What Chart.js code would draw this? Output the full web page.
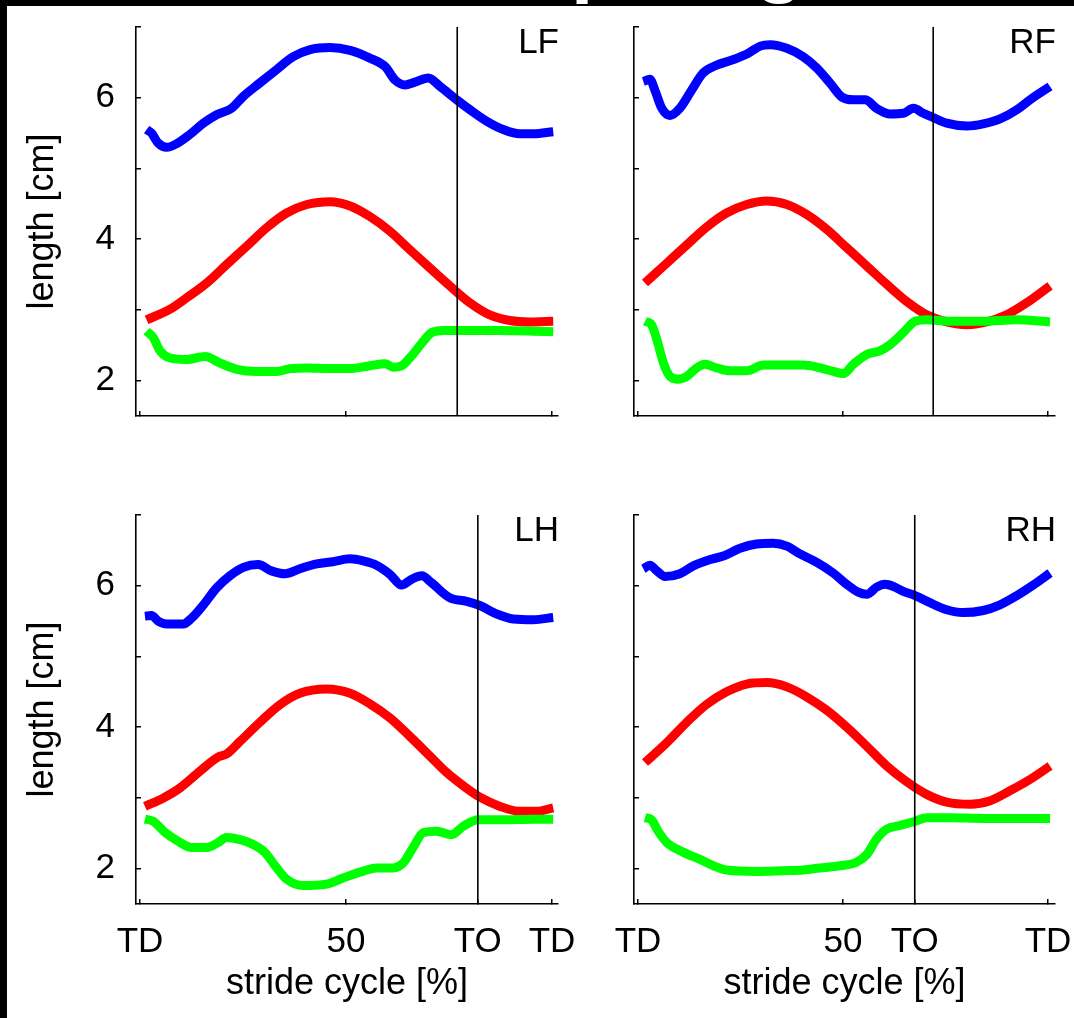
<!DOCTYPE html>
<html><head><meta charset="utf-8">
<script src="https://cdn.jsdelivr.net/npm/chart.js@4/dist/chart.umd.min.js"></script>
<style>
html,body{margin:0;padding:0;background:#fff;}
body{width:1074px;height:1018px;position:relative;overflow:hidden;font-family:"Liberation Sans",Arial,sans-serif;}
#topband{position:absolute;left:0;top:0;width:1074px;height:6px;background:#000;overflow:hidden;z-index:2;}
#topband span{position:absolute;top:-80px;color:#fff;font:bold 80px "Liberation Sans",Arial,sans-serif;line-height:80px;white-space:nowrap;}
#leftband{position:absolute;left:0;top:0;width:7px;height:1018px;background:#000;z-index:2;}
canvas{position:absolute;}
</style></head>
<body>
<div id="topband"><span style="left:571px">p</span><span style="left:755px">g</span></div>
<div id="leftband"></div>
<canvas id="cLF" width="580" height="460" style="left:0;top:0"></canvas>
<canvas id="cRF" width="494" height="460" style="left:580px;top:0"></canvas>
<canvas id="cLH" width="580" height="530" style="left:0;top:488px"></canvas>
<canvas id="cRH" width="494" height="530" style="left:580px;top:488px"></canvas>
<script>
// ---------- data (x: stride cycle %, y: length cm) ----------
const LF_blue_x = [1.6,2.8,4.4,6.5,8.9,12.1,15.4,18.6,22.2,25.1,29.1,33.2,37.2,41.3,46.1,51.0,55.8,59.5,61.9,64.3,66.7,70.0,72.8,76.9,80.1,84.1,88.2,92.2,95.5,100.3];
const LF_blue_y = [5.55,5.50,5.36,5.30,5.35,5.48,5.64,5.76,5.85,6.02,6.21,6.40,6.58,6.68,6.71,6.67,6.56,6.44,6.25,6.18,6.22,6.28,6.16,5.97,5.83,5.67,5.55,5.49,5.49,5.52];
const LF_red_x = [1.6,7.3,11.3,16.2,21.0,25.9,30.7,35.6,40.5,46.1,51.0,55.8,60.7,65.5,70.4,75.2,80.1,84.9,89.8,94.7,100.3];
const LF_red_y = [2.86,3.01,3.17,3.38,3.64,3.90,4.16,4.37,4.49,4.53,4.47,4.32,4.11,3.85,3.59,3.34,3.10,2.93,2.85,2.83,2.84];
const LF_green_x = [1.6,3.2,4.9,7.3,11.3,15.8,19.4,23.5,28.3,33.2,36.4,40.5,46.1,51.0,55.8,59.5,61.5,63.5,65.9,68.4,70.8,73.6,79.3,87.4,95.5,100.3];
const LF_green_y = [2.70,2.61,2.42,2.32,2.30,2.34,2.25,2.16,2.13,2.13,2.17,2.18,2.17,2.17,2.21,2.24,2.19,2.21,2.35,2.53,2.68,2.71,2.71,2.71,2.70,2.69];

const RF_blue_x = [1.3,2.9,4.1,5.8,7.8,10.2,13.1,15.9,19.2,23.3,26.9,29.8,32.2,36.3,40.3,43.6,46.8,49.7,52.5,55.4,58.2,61.5,64.7,67.2,69.6,72.0,75.3,80.2,84.2,88.3,92.4,95.6,100.5];
const RF_blue_y = [6.23,6.26,6.11,5.85,5.75,5.85,6.11,6.35,6.46,6.54,6.63,6.73,6.75,6.70,6.58,6.42,6.21,6.01,5.97,5.97,5.85,5.77,5.78,5.85,5.78,5.72,5.64,5.60,5.63,5.70,5.83,5.97,6.16];
const RF_red_x = [1.7,7.0,11.9,16.7,21.6,26.5,31.4,36.3,41.1,46.0,50.9,55.8,60.7,65.5,70.4,75.3,80.2,85.0,89.9,94.8,100.5];
const RF_red_y = [3.38,3.66,3.92,4.17,4.37,4.49,4.54,4.49,4.35,4.14,3.88,3.62,3.36,3.12,2.93,2.83,2.79,2.83,2.93,3.10,3.34];
const RF_green_x = [1.7,3.3,4.6,6.2,7.8,9.8,11.9,14.3,16.3,19.2,22.4,26.5,30.6,35.4,40.3,44.4,47.6,50.1,52.5,55.8,59.0,61.5,64.7,67.6,70.4,76.1,84.2,92.4,100.5];
const RF_green_y = [2.84,2.79,2.58,2.25,2.06,2.02,2.06,2.18,2.23,2.18,2.14,2.14,2.22,2.22,2.22,2.18,2.13,2.10,2.23,2.37,2.42,2.51,2.68,2.84,2.86,2.84,2.84,2.86,2.83];

const LH_blue_x = [1.2,2.8,4.4,6.5,10.5,12.5,15.4,18.6,21.8,25.1,28.7,31.9,35.2,38.8,42.9,46.9,51.0,54.2,57.4,60.7,63.5,65.9,68.4,70.8,75.2,79.3,82.5,86.6,90.6,95.5,100.3];
const LH_blue_y = [5.57,5.58,5.50,5.46,5.46,5.54,5.73,5.97,6.14,6.26,6.30,6.21,6.17,6.24,6.31,6.34,6.38,6.35,6.29,6.16,6.01,6.09,6.14,6.04,5.83,5.78,5.72,5.60,5.53,5.52,5.55];
const LH_red_x = [1.2,5.7,9.7,14.6,19.0,21.0,24.3,29.1,34.0,38.8,45.3,51.0,55.8,60.7,65.5,70.4,74.4,78.5,82.5,87.4,92.2,96.3,100.3];
const LH_red_y = [2.88,3.00,3.14,3.38,3.58,3.62,3.80,4.07,4.32,4.48,4.54,4.48,4.33,4.13,3.87,3.59,3.36,3.17,3.01,2.88,2.81,2.81,2.86];
const LH_green_x = [1.2,3.2,6.1,8.9,12.5,16.2,19.0,21.0,24.3,27.5,30.3,33.2,35.6,39.6,45.3,49.4,53.4,57.4,61.5,63.9,66.3,68.8,72.0,75.6,78.5,82.1,87.4,95.5,100.3];
const LH_green_y = [2.70,2.67,2.51,2.40,2.30,2.30,2.37,2.44,2.41,2.34,2.23,2.01,1.85,1.76,1.78,1.87,1.95,2.01,2.01,2.08,2.30,2.51,2.53,2.48,2.60,2.69,2.69,2.70,2.70];

const RH_blue_x = [1.3,2.9,4.6,6.6,10.2,13.5,17.6,20.8,24.9,28.9,33.0,36.3,39.5,43.6,47.6,50.9,53.7,55.8,58.2,60.2,62.3,64.7,67.6,71.2,75.3,79.3,84.2,88.3,92.4,96.4,100.5];
const RH_blue_y = [6.24,6.29,6.21,6.13,6.17,6.28,6.37,6.42,6.53,6.59,6.60,6.56,6.45,6.33,6.18,6.02,5.91,5.88,5.98,6.02,5.99,5.92,5.86,5.76,5.66,5.62,5.65,5.73,5.86,6.01,6.18];
const RH_red_x = [1.7,7.0,11.9,16.7,21.6,26.5,31.4,36.3,41.1,46.0,50.9,55.8,60.7,65.5,70.4,75.3,81.0,85.9,90.7,95.6,100.5];
const RH_red_y = [3.50,3.78,4.07,4.32,4.50,4.61,4.63,4.57,4.43,4.24,4.00,3.73,3.45,3.23,3.05,2.94,2.91,2.96,3.10,3.26,3.45];
const RH_green_x = [1.7,3.3,4.9,7.0,11.1,15.1,18.4,21.6,28.9,35.4,40.3,44.4,49.3,53.3,55.8,58.2,60.7,63.9,67.6,70.4,76.1,84.2,92.4,100.5];
const RH_green_y = [2.72,2.69,2.53,2.37,2.23,2.13,2.04,1.98,1.96,1.97,1.98,2.01,2.04,2.09,2.20,2.42,2.56,2.61,2.67,2.72,2.72,2.71,2.71,2.71];

// toe-off position (% of stride) per limb
const TO_LF = 77, TO_RF = 72, TO_LH = 82, TO_RH = 67.5;

// tick values / labels
const yTickValues = [2,3,4,5,6,7];
const yTickLabels = ['2','','4','','6',''];
const xTickTopValues = [0,50,100];
const xTickLabelsBottom = ['TD','50','TO','TD'];
const panelNames = ['LF','RF','LH','RH'];
const yLabel = 'length [cm]';
const xLabel = 'stride cycle [%]';

// ---------- drawing ----------
const FONT = '"Liberation Sans", Arial, sans-serif';
const panelLabel = {
  id: 'panelLabel',
  afterDraw(chart, args, opts) {
    const {ctx, chartArea} = chart;
    ctx.save();
    ctx.font = '35px ' + FONT;
    ctx.fillStyle = '#000';
    ctx.textAlign = 'right';
    ctx.textBaseline = 'alphabetic';
    ctx.fillText(opts.text, chartArea.right + 1, chartArea.top + 26);
    ctx.restore();
  }
};

function pts(xs, ys) { return xs.map((x, i) => ({x: x, y: ys[i]})); }
function line(xs, ys, color, order) {
  return {data: pts(xs, ys), borderColor: color, borderWidth: 9, pointRadius: 0,
          fill: false, cubicInterpolationMode: 'monotone', order: order};
}

function makePanel(id, cfg) {
  const xTicks = cfg.bottom ? [0, 50, cfg.to, 100] : xTickTopValues;
  const datasets = [
    {data: [{x: cfg.to, y: 1.5}, {x: cfg.to, y: 7}], borderColor: '#000', borderWidth: 1.6, pointRadius: 0, order: 0},
    line(cfg.g[0], cfg.g[1], '#00ff00', 1),
    line(cfg.r[0], cfg.r[1], '#ff0000', 2),
    line(cfg.b[0], cfg.b[1], '#0000ff', 3)
  ];
  new Chart(document.getElementById(id), {
    type: 'line',
    data: {datasets: datasets},
    plugins: [panelLabel],
    options: {
      responsive: false, animation: false, devicePixelRatio: 1,
      layout: {padding: {left: 0, right: cfg.padR, top: 27, bottom: 0}},
      plugins: {legend: {display: false}, tooltip: {enabled: false}, panelLabel: {text: cfg.name}},
      scales: {
        x: {
          type: 'linear', position: 'bottom', min: cfg.xmin, max: cfg.xmax,
          afterBuildTicks: s => { s.ticks = xTicks.map(v => ({value: v})); },
          afterFit: s => { s.height = cfg.xh; s.paddingLeft = 0; s.paddingRight = 0; s.paddingTop = 0; s.paddingBottom = 0; },
          grid: {drawOnChartArea: false, drawTicks: true, tickLength: -5, color: '#000', lineWidth: 1.5},
          border: {display: true, color: '#000', width: 1.6},
          ticks: {autoSkip: false, maxRotation: 0, minRotation: 0, padding: 22, color: '#000',
                  font: {family: FONT, size: 35},
                  callback: (v, i) => cfg.bottom ? xTickLabelsBottom[i] : ''},
          title: {display: cfg.bottom, text: xLabel, color: '#000', font: {family: FONT, size: 36},
                  padding: {top: 0, bottom: 12}}
        },
        y: {
          type: 'linear', position: 'left', min: 1.5, max: 7,
          afterBuildTicks: s => { s.ticks = yTickValues.map(v => ({value: v})); },
          afterFit: s => { s.width = cfg.yw; s.paddingLeft = 0; s.paddingRight = 0; s.paddingTop = 0; s.paddingBottom = 0; },
          grid: {drawOnChartArea: false, drawTicks: true, tickLength: -5, color: '#000', lineWidth: 1.5},
          border: {display: true, color: '#000', width: 1.6},
          ticks: {autoSkip: false, padding: 26, color: '#000', font: {family: FONT, size: 35},
                  callback: (v, i) => cfg.left ? yTickLabels[i] : ''},
          title: {display: cfg.left, text: yLabel, color: '#000', font: {family: FONT, size: 36},
                  padding: {top: 21, bottom: 0}}
        }
      }
    }
  });
}

makePanel('cLF', {name: panelNames[0], to: TO_LF, b: [LF_blue_x, LF_blue_y], r: [LF_red_x, LF_red_y], g: [LF_green_x, LF_green_y],
  left: true, bottom: false, yw: 136, xh: 44, padR: 22, xmin: -0.97, xmax: 101.46});
makePanel('cRF', {name: panelNames[1], to: TO_RF, b: [RF_blue_x, RF_blue_y], r: [RF_red_x, RF_red_y], g: [RF_green_x, RF_green_y],
  left: false, bottom: false, yw: 54, xh: 44, padR: 19, xmin: -0.98, xmax: 101.71});
makePanel('cLH', {name: panelNames[2], to: TO_LH, b: [LH_blue_x, LH_blue_y], r: [LH_red_x, LH_red_y], g: [LH_green_x, LH_green_y],
  left: true, bottom: true, yw: 136, xh: 114, padR: 22, xmin: -0.97, xmax: 101.46});
makePanel('cRH', {name: panelNames[3], to: TO_RH, b: [RH_blue_x, RH_blue_y], r: [RH_red_x, RH_red_y], g: [RH_green_x, RH_green_y],
  left: false, bottom: true, yw: 54, xh: 114, padR: 19, xmin: -0.98, xmax: 101.71});
</script>
</body></html>
